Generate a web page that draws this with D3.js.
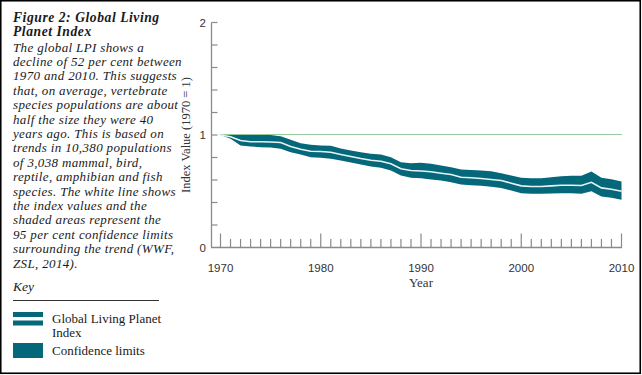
<!DOCTYPE html>
<html>
<head>
<meta charset="utf-8">
<script src="https://cdn.jsdelivr.net/npm/d3@7"></script>
<style>
  body { margin: 0; background: #fff; }
  svg { display: block; }
</style>
</head>
<body>
<div class="graphic"></div>
<script>
// LPI values (1970 = 1)
const years = d3.range(1970, 2011);
const lpi = [1, 0.985, 0.951, 0.94, 0.94, 0.938, 0.933, 0.898, 0.874, 0.856,
  0.853, 0.847, 0.827, 0.809, 0.791, 0.776, 0.767, 0.744, 0.70, 0.684,
  0.68, 0.673, 0.66, 0.649, 0.625, 0.62, 0.613, 0.604, 0.596, 0.572,
  0.548, 0.542, 0.542, 0.548, 0.554, 0.554, 0.551, 0.58, 0.53, 0.518, 0.5];
const upper = [1, 1, 1, 1, 1, 1, 0.99, 0.957, 0.927, 0.913,
  0.907, 0.904, 0.88, 0.862, 0.847, 0.833, 0.827, 0.803, 0.758, 0.75,
  0.753, 0.744, 0.729, 0.714, 0.693, 0.69, 0.684, 0.678, 0.66, 0.64,
  0.62, 0.616, 0.616, 0.625, 0.634, 0.637, 0.637, 0.676, 0.62, 0.607, 0.587];
const lower = [1, 0.966, 0.907, 0.898, 0.892, 0.89, 0.877, 0.847, 0.827, 0.803,
  0.797, 0.79, 0.773, 0.756, 0.738, 0.72, 0.708, 0.684, 0.64, 0.62,
  0.616, 0.604, 0.596, 0.58, 0.56, 0.554, 0.548, 0.539, 0.53, 0.507,
  0.483, 0.477, 0.477, 0.48, 0.483, 0.483, 0.477, 0.5, 0.453, 0.442, 0.424];
const xTickLabels = [1970, 1980, 1990, 2000, 2010];
const yTickLabels = [0, 1, 2];

const titleLines = ['Figure 2: Global Living', 'Planet Index'];
const bodyLines = [
  'The global LPI shows a',
  'decline of 52 per cent between',
  '1970 and 2010. This suggests',
  'that, on average, vertebrate',
  'species populations are about',
  'half the size they were 40',
  'years ago. This is based on',
  'trends in 10,380 populations',
  'of 3,038 mammal, bird,',
  'reptile, amphibian and fish',
  'species. The white line shows',
  'the index values and the',
  'shaded areas represent the',
  '95 per cent confidence limits',
  'surrounding the trend (WWF,',
  'ZSL, 2014).'
];

const data = years.map((y, i) => ({ year: y, v: lpi[i], hi: upper[i], lo: lower[i] }));

const teal = '#05677a';
const axisCol = '#8a8a8a';
const serif = '"Liberation Serif", "DejaVu Serif", serif';
const sans = '"Liberation Sans", Arial, sans-serif';

const svg = d3.select('.graphic')
  .append('svg')
  .attr('width', 642)
  .attr('height', 375);

// frame
svg.append('rect')
  .attr('x', 0.75).attr('y', 0.75)
  .attr('width', 639.5).attr('height', 372.5)
  .attr('fill', 'none')
  .attr('stroke', '#000')
  .attr('stroke-width', 1.6);

// left text block
const txt = svg.append('g');
txt.selectAll('text.title')
  .data(titleLines)
  .enter()
  .append('text')
  .attr('class', 'title')
  .attr('x', 13)
  .attr('y', (d, i) => 22 + i * 14.2)
  .attr('font-family', serif)
  .attr('font-size', 13.6)
  .attr('font-weight', 'bold')
  .attr('font-style', 'italic')
  .attr('letter-spacing', 0.55)
  .attr('fill', '#1a1a1a')
  .text(d => d);

txt.selectAll('text.body')
  .data(bodyLines)
  .enter()
  .append('text')
  .attr('class', 'body')
  .attr('x', 13)
  .attr('y', (d, i) => 51.5 + i * 14.4)
  .attr('font-family', serif)
  .attr('font-size', 13)
  .attr('font-style', 'italic')
  .attr('letter-spacing', 0.35)
  .attr('fill', '#1a1a1a')
  .text(d => d);

// key
svg.append('text')
  .attr('x', 13).attr('y', 291)
  .attr('font-family', serif)
  .attr('font-size', 13.5)
  .attr('font-style', 'italic')
  .attr('fill', '#1a1a1a')
  .text('Key');
svg.append('line')
  .attr('x1', 13).attr('x2', 159)
  .attr('y1', 300.5).attr('y2', 300.5)
  .attr('stroke', '#333').attr('stroke-width', 1);

svg.append('rect').attr('x', 13).attr('y', 312).attr('width', 30).attr('height', 5).attr('fill', teal);
svg.append('rect').attr('x', 13).attr('y', 320.5).attr('width', 30).attr('height', 5).attr('fill', teal);
svg.append('rect').attr('x', 13).attr('y', 343).attr('width', 30).attr('height', 15).attr('fill', teal);

const keyText = [['Global Living Planet', 323], ['Index', 337], ['Confidence limits', 355]];
svg.selectAll('text.key')
  .data(keyText)
  .enter()
  .append('text')
  .attr('class', 'key')
  .attr('x', 52)
  .attr('y', d => d[1])
  .attr('font-family', serif)
  .attr('font-size', 13)
  .attr('fill', '#1a1a1a')
  .text(d => d[0]);

// chart
const x = d3.scaleLinear().domain([1970, 2010]).range([220.5, 621.5]);
const y = d3.scaleLinear().domain([0, 2]).range([247.5, 22.5]);

// y axis line and ticks
svg.append('line')
  .attr('x1', 211.5).attr('x2', 211.5)
  .attr('y1', y(2)).attr('y2', y(0))
  .attr('stroke', axisCol).attr('stroke-width', 1.3);
svg.selectAll('line.ytick')
  .data(d3.range(1, 11).map(d => d / 5))
  .enter()
  .append('line')
  .attr('class', 'ytick')
  .attr('x1', 211.5).attr('x2', 217.5)
  .attr('y1', d => y(d)).attr('y2', d => y(d))
  .attr('stroke', axisCol).attr('stroke-width', 1.2);
svg.selectAll('text.ylab')
  .data(yTickLabels)
  .enter()
  .append('text')
  .attr('class', 'ylab')
  .attr('x', 206)
  .attr('y', d => y(d) + 4)
  .attr('text-anchor', 'end')
  .attr('font-family', sans)
  .attr('font-size', 11.5)
  .attr('fill', '#333')
  .text(d => d);

// x axis line and ticks
svg.append('line')
  .attr('x1', 211).attr('x2', x(2010) + 0.6)
  .attr('y1', y(0)).attr('y2', y(0))
  .attr('stroke', axisCol).attr('stroke-width', 1.3);
svg.selectAll('line.xtick')
  .data(years)
  .enter()
  .append('line')
  .attr('class', 'xtick')
  .attr('x1', d => x(d)).attr('x2', d => x(d))
  .attr('y1', y(0))
  .attr('y2', d => d % 10 === 0 ? y(0) - 14 : y(0) - 8.5)
  .attr('stroke', axisCol).attr('stroke-width', 1.2);
svg.selectAll('text.xlab')
  .data(xTickLabels)
  .enter()
  .append('text')
  .attr('class', 'xlab')
  .attr('x', d => x(d))
  .attr('y', 272)
  .attr('text-anchor', 'middle')
  .attr('font-family', sans)
  .attr('font-size', 11.5)
  .attr('fill', '#333')
  .text(d => d);

svg.append('text')
  .attr('x', x(1990)).attr('y', 287)
  .attr('text-anchor', 'middle')
  .attr('font-family', serif)
  .attr('font-size', 13)
  .attr('fill', '#333')
  .text('Year');

svg.append('text')
  .attr('transform', `translate(190, ${y(1)}) rotate(-90)`)
  .attr('text-anchor', 'middle')
  .attr('font-family', serif)
  .attr('font-size', 12.5)
  .attr('fill', '#333')
  .text('Index Value (1970 = 1)');

// reference line at 1
svg.append('line')
  .attr('x1', x(1970)).attr('x2', x(2010))
  .attr('y1', y(1) - 0.5).attr('y2', y(1) - 0.5)
  .attr('stroke', '#2f8f3a')
  .attr('stroke-width', 1)
  .attr('stroke-dasharray', '1,1');

// confidence band
const area = d3.area()
  .x(d => x(d.year))
  .y0(d => y(d.lo))
  .y1(d => y(d.hi));
svg.append('path')
  .datum(data)
  .attr('d', area)
  .attr('fill', teal);

// index line
const line = d3.line()
  .x(d => x(d.year))
  .y(d => y(d.v));
svg.append('path')
  .datum(data)
  .attr('d', line)
  .attr('fill', 'none')
  .attr('stroke', '#e8f4f4')
  .attr('stroke-width', 1.6);
</script>
</body>
</html>
